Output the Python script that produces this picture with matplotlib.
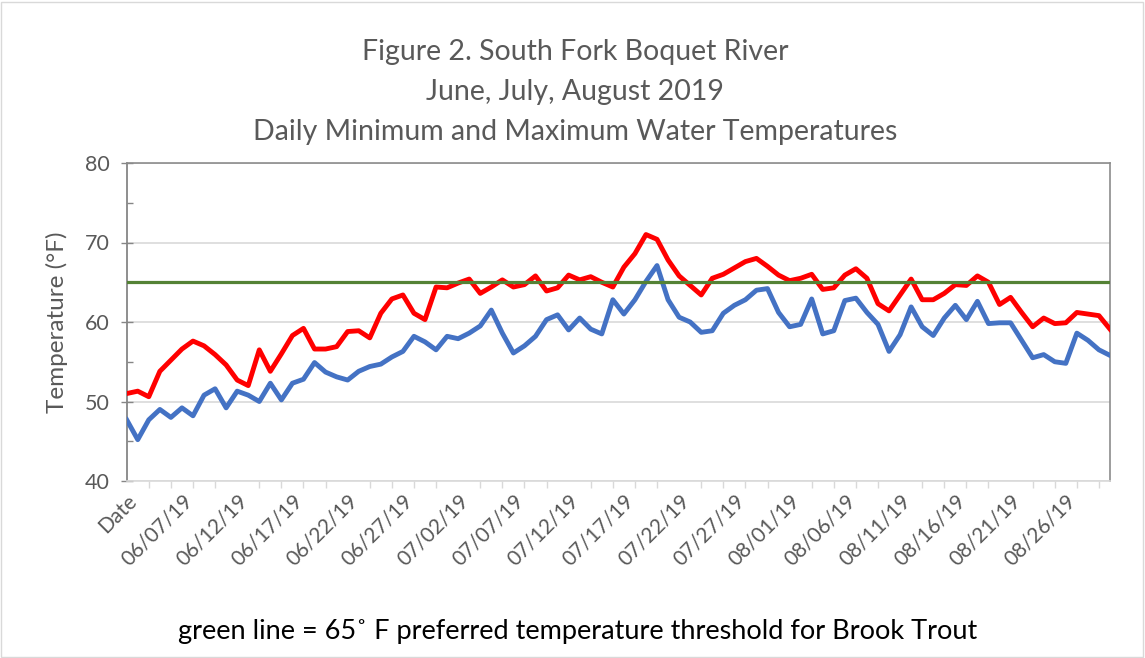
import matplotlib
matplotlib.use("Agg")
import matplotlib.pyplot as plt
from matplotlib.patches import Rectangle
import numpy as np

plt.rcParams['font.family'] = ['Lato', 'DejaVu Sans']

# Daily maximum water temperature (°F), one value per category
MAX_TEMP = [51.0, 51.3, 50.6, 53.8, 55.2, 56.6, 57.6, 57.0, 55.9, 54.6,
            52.7, 52.0, 56.5, 53.8, 56.0, 58.3, 59.2, 56.6, 56.6, 56.9,
            58.8, 58.9, 58.0, 61.1, 62.9, 63.4, 61.1, 60.3, 64.4, 64.3,
            64.9, 65.4, 63.6, 64.4, 65.3, 64.4, 64.7, 65.8, 63.9, 64.3,
            65.9, 65.3, 65.7, 65.0, 64.4, 66.9, 68.6, 71.0, 70.4, 67.8,
            65.8, 64.6, 63.4, 65.5, 66.0, 66.8, 67.6, 68.0, 67.0, 65.9,
            65.2, 65.5, 66.0, 64.1, 64.3, 65.9, 66.7, 65.5, 62.3, 61.4,
            63.4, 65.4, 62.8, 62.8, 63.6, 64.7, 64.6, 65.8, 65.0, 62.2,
            63.1, 61.2, 59.4, 60.5, 59.8, 59.9, 61.2, 61.0, 60.8, 59.1]

# Daily minimum water temperature (°F)
MIN_TEMP = [47.7, 45.2, 47.7, 49.0, 48.0, 49.2, 48.2, 50.8, 51.6, 49.2,
            51.3, 50.8, 50.0, 52.3, 50.2, 52.3, 52.8, 54.9, 53.7, 53.1,
            52.7, 53.8, 54.4, 54.7, 55.6, 56.3, 58.2, 57.5, 56.5, 58.2,
            57.9, 58.6, 59.5, 61.5, 58.6, 56.1, 57.0, 58.2, 60.3, 60.9,
            59.0, 60.5, 59.1, 58.5, 62.8, 61.0, 62.8, 65.1, 67.1, 62.8,
            60.6, 60.0, 58.7, 58.9, 61.1, 62.1, 62.8, 64.0, 64.2, 61.2,
            59.4, 59.7, 62.9, 58.5, 58.9, 62.7, 63.0, 61.2, 59.7, 56.3,
            58.4, 61.9, 59.4, 58.3, 60.5, 62.1, 60.3, 62.6, 59.8, 59.9,
            59.9, 57.7, 55.5, 55.9, 55.0, 54.8, 58.6, 57.7, 56.5, 55.8]

THRESHOLD = 65

TICK_LABELS = ["Date", "06/07/19", "06/12/19", "06/17/19", "06/22/19",
               "06/27/19", "07/02/19", "07/07/19", "07/12/19", "07/17/19",
               "07/22/19", "07/27/19", "08/01/19", "08/06/19", "08/11/19",
               "08/16/19", "08/21/19", "08/26/19"]

TITLE_LINES = ["Figure 2. South Fork Boquet River",
               "June, July, August 2019",
               "Daily Minimum and Maximum Water Temperatures"]
Y_LABEL = "Temperature (°F)"
FOOTNOTE = "green line = 65˚ F preferred temperature threshold for Brook Trout"

W, H = 1145, 658
fig = plt.figure(figsize=(W / 100, H / 100), dpi=100)
ax = fig.add_axes([126.7 / W, 1 - 481 / H, (1110 - 126.7) / W, (481 - 163) / H])

x = np.arange(len(MAX_TEMP))
ax.plot(x, MAX_TEMP, color='#FF0000', lw=3.5, solid_joinstyle='round', zorder=3)
ax.plot(x, MIN_TEMP, color='#4472C4', lw=3.5, solid_joinstyle='round', zorder=3)
ax.axhline(THRESHOLD, color='#548235', lw=2.3, zorder=4)

ax.set_xlim(0, len(MAX_TEMP) - 1)
ax.set_ylim(40, 80)

grey_txt = '#595959'
ax.set_yticks([40, 50, 60, 70, 80])
ax.set_yticks([45, 55, 65, 75], minor=True)
ax.tick_params(axis='y', which='major', direction='inout', length=9, width=1,
               color='#868686', labelsize=15.5, labelcolor=grey_txt, pad=8)
ax.tick_params(axis='y', which='minor', direction='in', length=4, width=1,
               color='#868686')

ax.set_xticks(x[::5])
ax.set_xticklabels(TICK_LABELS, rotation=45, ha='right', rotation_mode='anchor')
ax.set_xticks(x[::2], minor=True)
ax.tick_params(axis='x', which='major', length=0, labelsize=15,
               labelcolor=grey_txt, pad=7)
ax.tick_params(axis='x', which='minor', direction='out', length=5, width=1,
               color='#d9d9d9')

ax.grid(axis='y', which='major', color='#d9d9d9', lw=1.2, zorder=0)
ax.set_axisbelow(True)

ax.spines['left'].set_color('#868686')
ax.spines['left'].set_linewidth(1.3)
ax.spines['bottom'].set_color('#d9d9d9')
ax.spines['bottom'].set_linewidth(1.2)
ax.spines['top'].set_color('#8c8c8c')
ax.spines['top'].set_linewidth(1.2)
ax.spines['right'].set_color('#8c8c8c')
ax.spines['right'].set_linewidth(1.2)

ax.set_ylabel(Y_LABEL, fontsize=17.5, color=grey_txt, labelpad=12)

for i, line in enumerate(TITLE_LINES):
    fig.text(575 / W, 1 - (52 + 40 * i) / H, line, ha='center', va='center',
             fontsize=20.5, color=grey_txt)

fig.text(578 / W, 1 - 632 / H, FOOTNOTE, ha='center', va='center',
         fontsize=19.5, color='black')

fig.patches.append(Rectangle((1 / W, 1 / H), 1 - 3 / W, 1 - 3 / H,
                             transform=fig.transFigure, fill=False,
                             edgecolor='#d9d9d9', lw=1))

fig.savefig('out.png', dpi=100)
